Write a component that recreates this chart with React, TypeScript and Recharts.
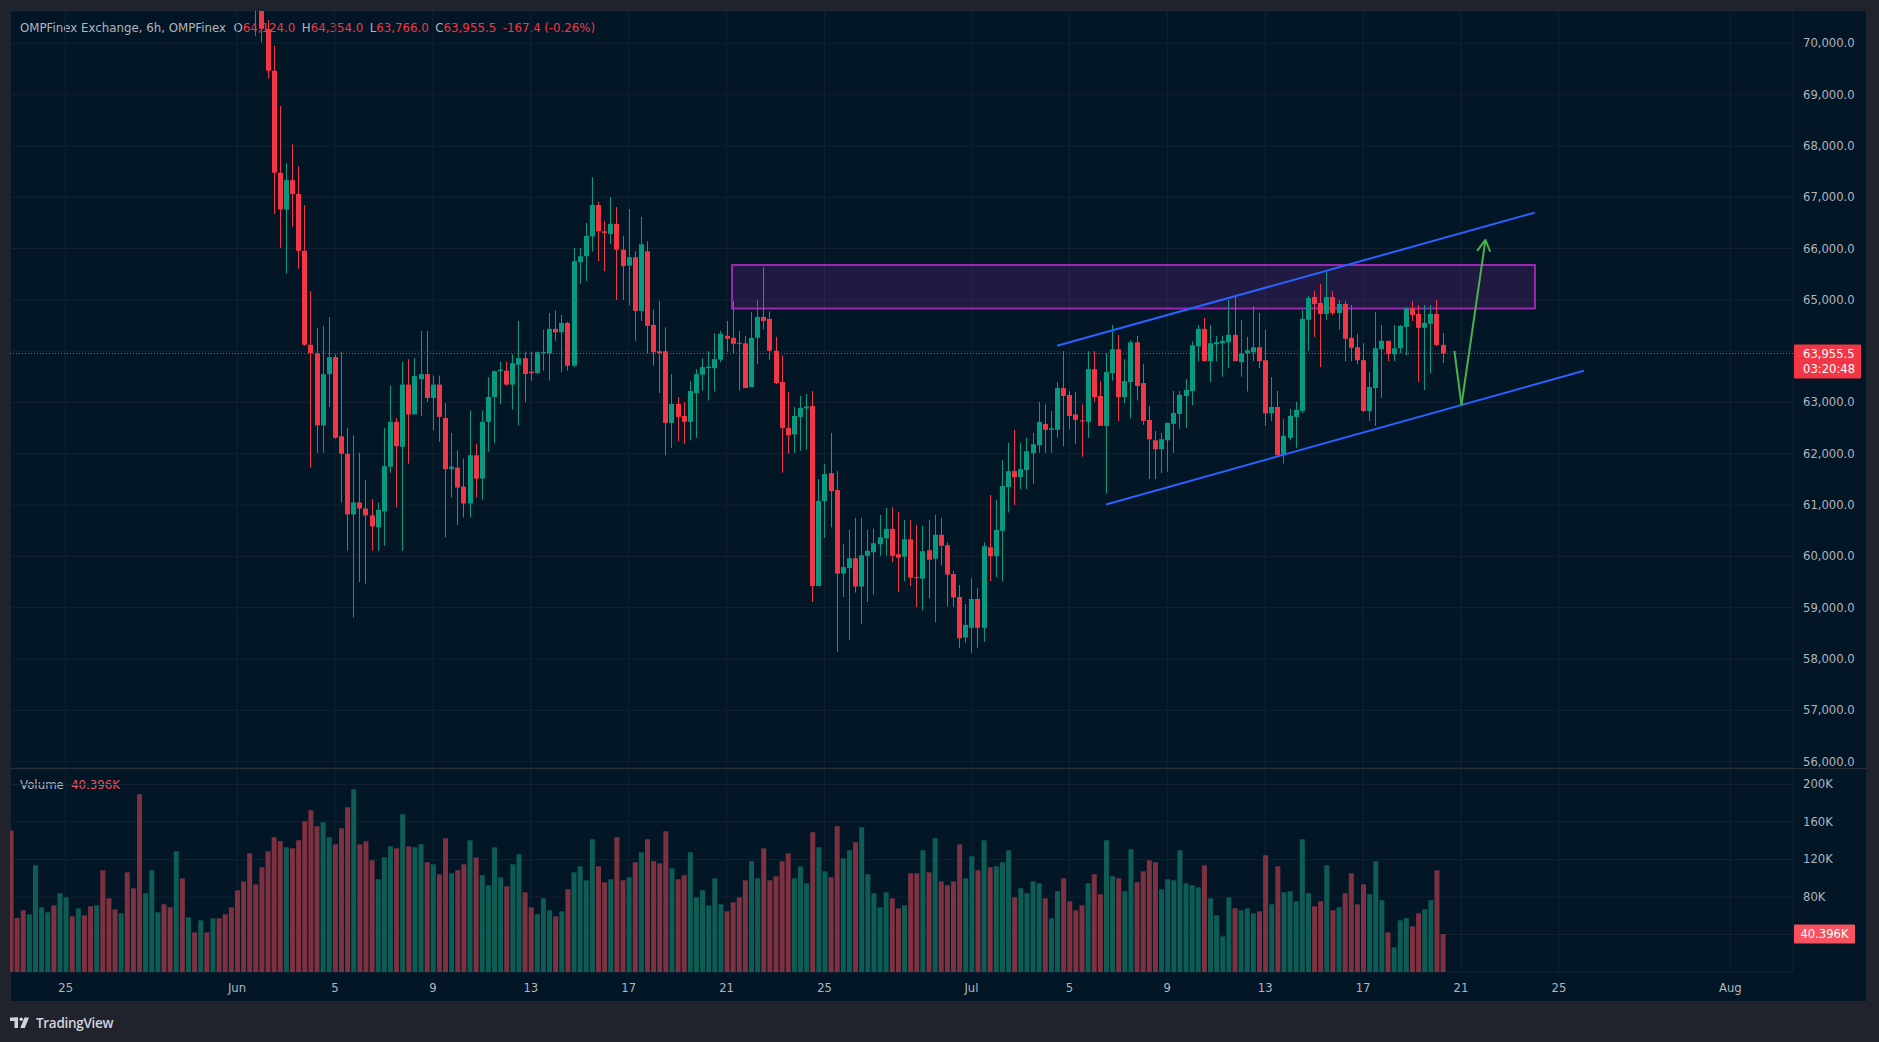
import React from 'react';
import { ComposedChart, Bar, XAxis, YAxis, CartesianGrid, ReferenceLine, ReferenceArea, Cell } from 'recharts';

// ---------- data ----------
// 6h candles; time in days relative to 2024-06-01 00:00
const firstCandleDay = -9.25; // 22 May 18:00
const candleStep = 0.25;
const firstPricedIndex = 40; // earlier candles sit above the visible price range

const opens = [
  70900, 70750, 70282, 69467, 67479, 66762, 67334, 67063, 65957, 64125,
  63960, 62554, 63552, 63882, 62341, 62001, 60818, 61051, 60934, 60799,
  60566, 60877, 61749, 62622, 62137, 63349, 62767, 63456, 63553, 63088,
  63349, 62699, 61701, 61730, 61361, 61032, 61972, 61516, 62622, 63107,
  63611, 63620, 63349, 63737, 63863, 63601, 63572, 63960, 63960, 64435,
  64367, 64551, 63717, 65734, 65851, 66238, 66849, 66335, 66287, 66481,
  65977, 65667, 65831, 64784, 65948, 64513, 63999, 63999, 62602, 62971,
  62738, 62622, 63184, 63543, 63669, 63669, 63834, 64299, 64260, 64163,
  64153, 63301, 64260, 64667, 64629, 64008, 63398, 62505, 62379, 62719,
  62884, 62932, 59422, 61080, 61623, 61293, 59665, 59771, 59965, 59413,
  60013, 60081, 60237, 60353, 60537, 60043, 59994, 60333, 59597, 59567,
  60120, 59955, 60421, 60217, 59655, 59209, 58423, 58608, 59170, 58608,
  60178, 60004, 60498, 61352, 61662, 61545, 61681, 62011, 62166, 62583,
  62467, 62467, 63281, 63146, 62767, 62651, 62622, 63650, 63126, 62544,
  63572, 64038, 63107, 63398, 64173, 63378, 62660, 62263, 62089, 62263,
  62583, 62777, 63126, 63223, 64095, 64435, 63805, 64134, 64153, 64173,
  64318, 63785, 63960, 63979, 64076, 63824, 62787, 62913, 61972, 62311,
  62719, 62835, 64610, 65055, 64939, 64726, 65055, 64745, 64920, 64260,
  64076, 63824, 62835, 63281, 64038, 64202, 63941, 64057, 64474, 64832,
  64726, 64455, 64532, 64726, 64124,
];
const highs = [
  71100, 70900, 70456, 69952, 68779, 67664, 68032, 67606, 66849, 65172,
  64445, 64493, 64667, 63940, 63980, 62505, 62360, 62021, 61497, 61119,
  61051, 62505, 63330, 62699, 63795, 63844, 63862, 64396, 64396, 63524,
  63524, 62990, 62408, 62069, 61904, 62845, 62195, 62845, 63495, 63620,
  63795, 63795, 63940, 64590, 63989, 63989, 63990, 64416, 64745, 64794,
  64706, 64571, 66015, 66015, 66500, 67392, 66917, 66539, 67004, 66810,
  66248, 66771, 65948, 66616, 66141, 64813, 64978, 64464, 63553, 63107,
  63010, 63417, 63650, 63863, 63999, 64348, 64396, 64590, 64978, 64396,
  64299, 64765, 64997, 65637, 64774, 64280, 63921, 63204, 62913, 63126,
  63165, 63223, 61507, 61798, 62408, 61662, 60237, 60518, 60751, 60751,
  60518, 60537, 60809, 60945, 60964, 60867, 60712, 60712, 60615, 60596,
  60712, 60809, 60751, 60275, 59713, 59441, 59073, 59577, 59383, 60275,
  61197, 61100, 61875, 62215, 62467, 62215, 62311, 62408, 63010, 62961,
  62835, 63398, 63999, 63223, 63204, 62961, 63999, 63999, 63417, 63960,
  64512, 64318, 63844, 64212, 64299, 63747, 62932, 62447, 62408, 62603,
  63223, 63223, 63456, 64192, 64512, 64648, 64512, 64299, 64299, 64997,
  65085, 64609, 64280, 64881, 64745, 64416, 63495, 63223, 62680, 62874,
  63010, 64803, 65075, 65172, 65308, 65560, 65172, 64997, 64978, 64900,
  64338, 64154, 63592, 64765, 64512, 64202, 64512, 64512, 64861, 64978,
  64900, 64900, 64900, 64997, 64354,
];
const lows = [
  70146, 70020, 69312, 66675, 66015, 65511, 66432, 65608, 64105, 61730,
  62021, 62021, 62913, 62293, 61051, 60110, 58811, 59500, 59471, 60110,
  60110, 60207, 61633, 60954, 60110, 61807, 63010, 62729, 63010, 62457,
  62234, 60372, 61148, 60615, 60760, 60760, 61148, 61109, 62040, 62215,
  62971, 63330, 62864, 62554, 63010, 63427, 63553, 63620, 63427, 64203,
  63591, 63620, 63688, 65317, 65366, 65947, 65754, 65560, 66093, 64997,
  64997, 64891, 64202, 64590, 63960, 63717, 63184, 61972, 62118, 62243,
  62195, 62263, 62312, 63233, 63039, 63213, 63785, 63989, 63960, 63233,
  63281, 63301, 63747, 64425, 63834, 63359, 61633, 62001, 62021, 62060,
  62079, 59112, 59422, 60362, 60566, 58142, 59209, 58365, 59296, 58675,
  59112, 59258, 60013, 60013, 59887, 59306, 59519, 59422, 59015, 58947,
  59180, 58714, 59820, 59025, 59015, 58220, 58317, 58123, 58220, 58336,
  59519, 59597, 59519, 60857, 61003, 61313, 61313, 61410, 62021, 62021,
  62021, 62311, 62147, 62476, 62195, 61943, 62311, 63010, 62544, 61226,
  63427, 62641, 62990, 62690, 63039, 62564, 61507, 61507, 61623, 61652,
  62021, 62486, 62505, 62952, 63805, 63805, 63398, 63805, 63504, 63669,
  63805, 63504, 63213, 63805, 63669, 62544, 62641, 61972, 61807, 62263,
  62118, 62796, 64008, 64280, 63689, 64610, 64706, 64416, 63805, 63805,
  63747, 62816, 62641, 62544, 63088, 63805, 63805, 63960, 63921, 64590,
  63398, 63243, 63572, 64095, 63766,
];
const closes = [
  70700, 70282, 69467, 67479, 66762, 67334, 67063, 65957, 64125, 63960,
  62554, 63552, 63882, 62312, 62001, 60818, 61051, 60934, 60799, 60585,
  60906, 61759, 62622, 62147, 63349, 62767, 63514, 63553, 63088, 63349,
  62719, 61701, 61749, 61342, 61032, 61972, 61516, 62622, 63107, 63611,
  63640, 63349, 63766, 63863, 63553, 63572, 63980, 63980, 64435, 64367,
  64551, 63717, 65754, 65851, 66248, 66849, 66335, 66306, 66481, 65977,
  65657, 65831, 64784, 66083, 64493, 63979, 63960, 62602, 62971, 62719,
  62622, 63223, 63553, 63689, 63698, 63844, 64338, 64241, 64144, 64144,
  63281, 64260, 64667, 64590, 64008, 63378, 62505, 62360, 62738, 62893,
  62922, 59422, 61080, 61604, 61274, 59665, 59791, 59965, 59413, 60023,
  60110, 60256, 60372, 60537, 60013, 59975, 60333, 59587, 59587, 60101,
  59936, 60421, 60207, 59645, 59199, 58404, 58665, 59170, 58608, 60198,
  60004, 60518, 61371, 61662, 61545, 61701, 62050, 62186, 62622, 62467,
  62496, 63281, 63126, 62738, 62661, 62632, 63650, 63107, 62544, 63592,
  64038, 63107, 63417, 64173, 63320, 62641, 62282, 62089, 62282, 62603,
  62796, 63146, 63243, 64115, 64435, 63805, 64154, 64173, 64202, 64318,
  63805, 63960, 64018, 64076, 63805, 62787, 62913, 61972, 62350, 62738,
  62855, 64629, 65036, 64920, 64726, 65055, 64745, 64920, 64241, 64066,
  63824, 62835, 63301, 64057, 64202, 63941, 64057, 64493, 64832, 64706,
  64455, 64551, 64726, 64123, 63955.5,
];
// volume in thousands, one per candle (all 235)
const volumesK = [
  151, 57.6, 65.8, 61.5, 113.8, 69, 63.7, 71.1, 84, 79.6,
  59.4, 67.9, 60.5, 70, 71.1, 108.5, 78.6, 66.9, 62.6, 106.3,
  89.3, 189.5, 84, 108.5, 63.7, 72.2, 69, 128.7, 99.9, 58.3,
  42.3, 55.1, 42.3, 57.3, 57.3, 61.5, 69, 87.1, 96.7, 126.6,
  93.5, 111.7, 128.7, 143.6, 139.4, 133, 131.9, 140.5, 160.7, 172.5,
  155.4, 159.7, 143.6, 136.2, 153.3, 175.7, 194.9, 136.2, 139.4, 119.1,
  98.9, 122.3, 134, 131.9, 168.2, 134, 133, 136.2, 117, 114.9,
  104.2, 142.6, 105.3, 108.5, 114.9, 140.5, 122.3, 103.2, 92.5, 133,
  101, 91.4, 114.9, 125.5, 85, 69, 61.5, 78.6, 65.8, 59.4,
  64.7, 88.2, 106.3, 112.7, 97.8, 141.5, 112.7, 95.7, 98.9, 143.6,
  97.8, 101, 117, 127.7, 141.5, 118.1, 115.9, 150, 110.6, 98.9,
  103.2, 127.7, 79.6, 87.1, 71.1, 99.9, 72.2, 64.7, 74.3, 79.6,
  97.8, 118.1, 99.9, 131.9, 97.8, 102.1, 118.1, 126.6, 99.9, 112.7,
  94.6, 149, 133, 107.4, 101, 155.4, 121.3, 129.8, 138.3, 154.3,
  104.2, 84, 69, 85, 78.6, 67.9, 71.1, 105.3, 105.3, 129.8,
  106.3, 142.6, 96.7, 92.5, 96.7, 136.2, 99.9, 123.4, 108.5, 140.5,
  111.7, 112.7, 117, 129.8, 79.6, 89.3, 84, 96.7, 94.6, 78.6,
  57.3, 86.1, 99.9, 75.4, 65.8, 71.1, 94.6, 104.2, 82.9, 140.5,
  102.1, 99.9, 86.1, 130.9, 95.7, 107.4, 119.1, 117, 88.2, 98.9,
  97.8, 129.8, 94.6, 92.5, 90.3, 113.8, 78.6, 60.5, 38, 79.6,
  67.9, 65.8, 67.9, 62.6, 64.7, 124.5, 72.2, 112.7, 85, 86.1,
  75.4, 141.5, 84, 70, 75.4, 113.8, 65.8, 69, 84, 105.3,
  72.2, 93.5, 82.9, 118.1, 76.5, 42.3, 26.3, 55.1, 57.3, 48.7,
  62.6, 66.9, 76.5, 108.5, 40.396,
];
// direction of the candles above the visible range (u = up, d = down)
const earlySides = ['d','d','d','u','u','u','u','d','u','u','d','u','d','d','u','d','d','d','u','d',
  'd','d','u','u','u','d','d','u','d','u','d','u','d','u','d','d','d','d','d','d'];

const timeTicks = [-7, 0, 4, 8, 12, 16, 20, 24, 30, 34, 38, 42, 46, 50, 54, 61];
const timeLabels = ['25', 'Jun', '5', '9', '13', '17', '21', '25', 'Jul', '5', '9', '13', '17', '21', '25', 'Aug'];
const priceTicks = [56000, 57000, 58000, 59000, 60000, 61000, 62000, 63000, 64000, 65000, 66000, 67000, 68000, 69000, 70000];
const volumeTicks = [40000, 80000, 120000, 160000, 200000];

// drawings (time in days, price)
const resistanceZone = { t1: 20.22, t2: 53.02, p1: 64831, p2: 65679 };
const upperChannel = [{ x: 33.5, y: 64104 }, { x: 53.01, y: 66700 }];
const lowerChannel = [{ x: 35.5, y: 61012 }, { x: 55.02, y: 63619 }];
const arrowPath = [{ x: 49.73, y: 64005 }, { x: 50.02, y: 62951 }, { x: 51.0, y: 66174 }];
const arrowHead = [{ x: 50.66, y: 65956 }, { x: 51.0, y: 66174 }, { x: 51.19, y: 65938 }];

// ---------- styling ----------
const FONT = '"DejaVu Sans", Verdana, sans-serif';
const FS = 11.6;
const HFS = 11.8;
const BG = '#021626';
const FRAME = '#20222c';
const GRID = '#122232';
const TEXT = '#b2b5be';
const UP = '#089981';
const DOWN = '#f23645';
const UP_VOL = '#0d5d55';
const DOWN_VOL = '#7e3140';
const VOL_TAG = '#f7525f';

const timeDomain = [-9.273, 63.562];
const priceDomain = [55876, 70630];
const volumeDomain = [0, 216500];

// ---------- derived table ----------
const candleDays = volumesK.map((_, i) => firstCandleDay + i * candleStep);
const candleData = opens.map((o, j) => ({
  t: candleDays[j + firstPricedIndex],
  open: o,
  high: highs[j],
  low: lows[j],
  close: closes[j],
  range: [lows[j], highs[j]],
}));
const volumeData = volumesK.map((v, i) => {
  const j = i - firstPricedIndex;
  const up = j >= 0 ? closes[j] >= opens[j] : earlySides[i] === 'u';
  return { t: candleDays[i], vol: v * 1000, up };
});
const last = candleData[candleData.length - 1];
const lastVolume = volumesK[volumesK.length - 1] * 1000;

const fmtPrice = (v: number) => v.toLocaleString('en-US', { minimumFractionDigits: 1, maximumFractionDigits: 1 });
const fmtVolK = (v: number) => `${(v / 1000).toFixed(3)}K`;

const CandleShape = (props: any) => {
  const { x, y, width, height, payload } = props;
  if (!payload || payload.high == null || !isFinite(y) || !isFinite(height)) return null;
  const top = Math.min(y, y + height);
  const h = Math.abs(height);
  const ppu = h / (payload.high - payload.low);
  const yOf = (v: number) => top + (payload.high - v) * ppu;
  const up = payload.close >= payload.open;
  const color = up ? UP : DOWN;
  const bx = Math.round(x);
  const bw = Math.round(width);
  const cx = bx + Math.floor(bw / 2);
  const bTop = yOf(Math.max(payload.open, payload.close));
  const bBot = yOf(Math.min(payload.open, payload.close));
  return (
    <g>
      <rect x={cx} y={top} width={1} height={h} fill={color} />
      <rect x={bx} y={bTop} width={bw} height={Math.max(1, bBot - bTop)} fill={color} />
    </g>
  );
};

const PriceTick = (props: any) => {
  const { x, y, payload } = props;
  if (payload.value === 64000) return null;
  return (
    <text x={x + 10} y={y + 4} fill={TEXT} fontSize={FS} fontFamily={FONT} textAnchor="start">
      {fmtPrice(payload.value)}
    </text>
  );
};

const VolumeTick = (props: any) => {
  const { x, y, payload } = props;
  if (payload.value === 40000) return null;
  return (
    <text x={x + 10} y={y + 4} fill={TEXT} fontSize={FS} fontFamily={FONT} textAnchor="start">
      {`${payload.value / 1000}K`}
    </text>
  );
};

const TimeTick = (props: any) => {
  const { x, y, payload } = props;
  const idx = timeTicks.indexOf(payload.value);
  return (
    <text x={x} y={y + 20} fill={TEXT} fontSize={FS} fontFamily={FONT} textAnchor="middle">
      {timeLabels[idx]}
    </text>
  );
};

const PriceTag = (props: any) => {
  const vb = props.viewBox;
  if (!vb) return null;
  const x = vb.x + vb.width + 1;
  const y = vb.y;
  return (
    <g>
      <rect x={x} y={y - 9} width={67} height={34} fill={DOWN} rx={1} />
      <text x={x + 9} y={y + 4.5} fill="#ffffff" fontSize={FS} fontFamily={FONT}>{fmtPrice(last.close)}</text>
      <text x={x + 9} y={y + 19.5} fill="#ffffff" fontSize={FS} fontFamily={FONT}>03:20:48</text>
    </g>
  );
};

const VolumeTag = (props: any) => {
  const vb = props.viewBox;
  if (!vb) return null;
  const x = vb.x + vb.width + 1;
  const y = vb.y;
  return (
    <g>
      <rect x={x} y={y - 9.5} width={61} height={19} fill={VOL_TAG} rx={1} />
      <text x={x + 30.5} y={y + 4} fill="#ffffff" fontSize={FS} fontFamily={FONT} textAnchor="middle">{fmtVolK(lastVolume)}</text>
    </g>
  );
};

const LogoMark = () => (
  <svg width={20} height={14} style={{ position: 'absolute', left: 10, top: 1016 }}>
    <rect x={0} y={1.5} width={8} height={3.5} fill="#d1d4dc" />
    <rect x={4.5} y={1.5} width={3.5} height={10.5} fill="#d1d4dc" />
    <circle cx={11.2} cy={3.3} r={1.8} fill="#d1d4dc" />
    <polygon points="14.5,1.5 19,1.5 14.8,12 10.3,12" fill="#d1d4dc" />
  </svg>
);

export default function App() {
  const redVal = { color: DOWN };
  const gap = { marginLeft: 6.5 };
  return (
    <div style={{ position: 'absolute', left: 0, top: 0, width: 1879, height: 1042, background: FRAME, overflow: 'hidden', fontFamily: FONT }}>
      {/* pane background */}
      <div style={{ position: 'absolute', left: 10, top: 10, width: 1857, height: 992, background: BG, boxShadow: 'inset 0 0 0 1px #1c2633' }} />

      {/* header legend (below candles) */}
      <div style={{ position: 'absolute', left: 20, top: 20, height: 16, lineHeight: '16px', fontSize: HFS, color: TEXT, whiteSpace: 'nowrap' }}>
        <span>OMPFinex Exchange, 6h, OMPFinex</span>
        <span style={{ marginLeft: 7.5 }}>O<span style={redVal}>{fmtPrice(last.open)}</span></span>
        <span style={gap}>H<span style={redVal}>{fmtPrice(last.high)}</span></span>
        <span style={gap}>L<span style={redVal}>{fmtPrice(last.low)}</span></span>
        <span style={gap}>C<span style={redVal}>{fmtPrice(last.close)}</span></span>
        <span style={{ ...gap, ...redVal }}>-167.4</span>
        <span style={{ marginLeft: 3.5, ...redVal }}>(-0.26%)</span>
      </div>

      {/* volume legend */}
      <div style={{ position: 'absolute', left: 20, top: 777, height: 16, lineHeight: '16px', fontSize: HFS, color: TEXT, whiteSpace: 'nowrap' }}>
        <span>Volume</span>
        <span style={{ marginLeft: 7, color: VOL_TAG }}>{fmtVolK(lastVolume)}</span>
      </div>

      {/* price pane */}
      <div style={{ position: 'absolute', left: 10, top: 11 }}>
        <ComposedChart width={1857} height={757} data={candleData} margin={{ top: 0, right: 0, bottom: 0, left: 0 }}>
          <CartesianGrid stroke={GRID} />
          <XAxis dataKey="t" type="number" domain={timeDomain} allowDataOverflow ticks={timeTicks} hide />
          <YAxis orientation="right" width={74} type="number" domain={priceDomain} allowDataOverflow ticks={priceTicks}
            interval={0} axisLine={false} tickLine={false} tickSize={0} tickMargin={0} tick={<PriceTick />} />
          <ReferenceArea x1={resistanceZone.t1} x2={resistanceZone.t2} y1={resistanceZone.p1} y2={resistanceZone.p2}
            fill="#9c27b0" fillOpacity={0.2} stroke="#9c27b0" strokeWidth={2} strokeOpacity={1} />
          <Bar dataKey="range" barSize={5} isAnimationActive={false} shape={<CandleShape />} />
          <ReferenceLine y={last.close} stroke={DOWN} strokeDasharray="1 2" strokeWidth={1} label={<PriceTag />} />
          <ReferenceLine segment={upperChannel} stroke="#2962ff" strokeWidth={2} />
          <ReferenceLine segment={lowerChannel} stroke="#2962ff" strokeWidth={2} />
          <ReferenceLine segment={[arrowPath[0], arrowPath[1]]} stroke="#4caf50" strokeWidth={2} />
          <ReferenceLine segment={[arrowPath[1], arrowPath[2]]} stroke="#4caf50" strokeWidth={2} />
          <ReferenceLine segment={[arrowHead[0], arrowHead[1]]} stroke="#4caf50" strokeWidth={2} />
          <ReferenceLine segment={[arrowHead[1], arrowHead[2]]} stroke="#4caf50" strokeWidth={2} />
        </ComposedChart>
      </div>

      {/* pane separator */}
      <div style={{ position: 'absolute', left: 10, top: 768, width: 1857, height: 1, background: '#2a2e39' }} />

      {/* volume pane + time axis */}
      <div style={{ position: 'absolute', left: 10, top: 769 }}>
        <ComposedChart width={1857} height={232} data={volumeData} margin={{ top: 0, right: 0, bottom: 0, left: 0 }}>
          <CartesianGrid stroke={GRID} />
          <XAxis dataKey="t" type="number" domain={timeDomain} allowDataOverflow ticks={timeTicks} interval={0}
            height={29} axisLine={false} tickLine={false} tickSize={0} tickMargin={0} tick={<TimeTick />} />
          <YAxis orientation="right" width={74} type="number" domain={volumeDomain} allowDataOverflow ticks={volumeTicks}
            interval={0} axisLine={false} tickLine={false} tickSize={0} tickMargin={0} tick={<VolumeTick />} />
          <Bar dataKey="vol" barSize={5} isAnimationActive={false}>
            {volumeData.map((d, i) => (
              <Cell key={i} fill={d.up ? UP_VOL : DOWN_VOL} />
            ))}
          </Bar>
          <ReferenceLine y={lastVolume} stroke="none" label={<VolumeTag />} />
        </ComposedChart>
      </div>

      {/* footer */}
      <LogoMark />
      <div style={{ position: 'absolute', left: 36, top: 1015, lineHeight: '16px', fontSize: 13.5, fontWeight: 600, color: '#d1d4dc', fontFamily: '"Open Sans", sans-serif', letterSpacing: -0.3 }}>
        TradingView
      </div>
    </div>
  );
}
